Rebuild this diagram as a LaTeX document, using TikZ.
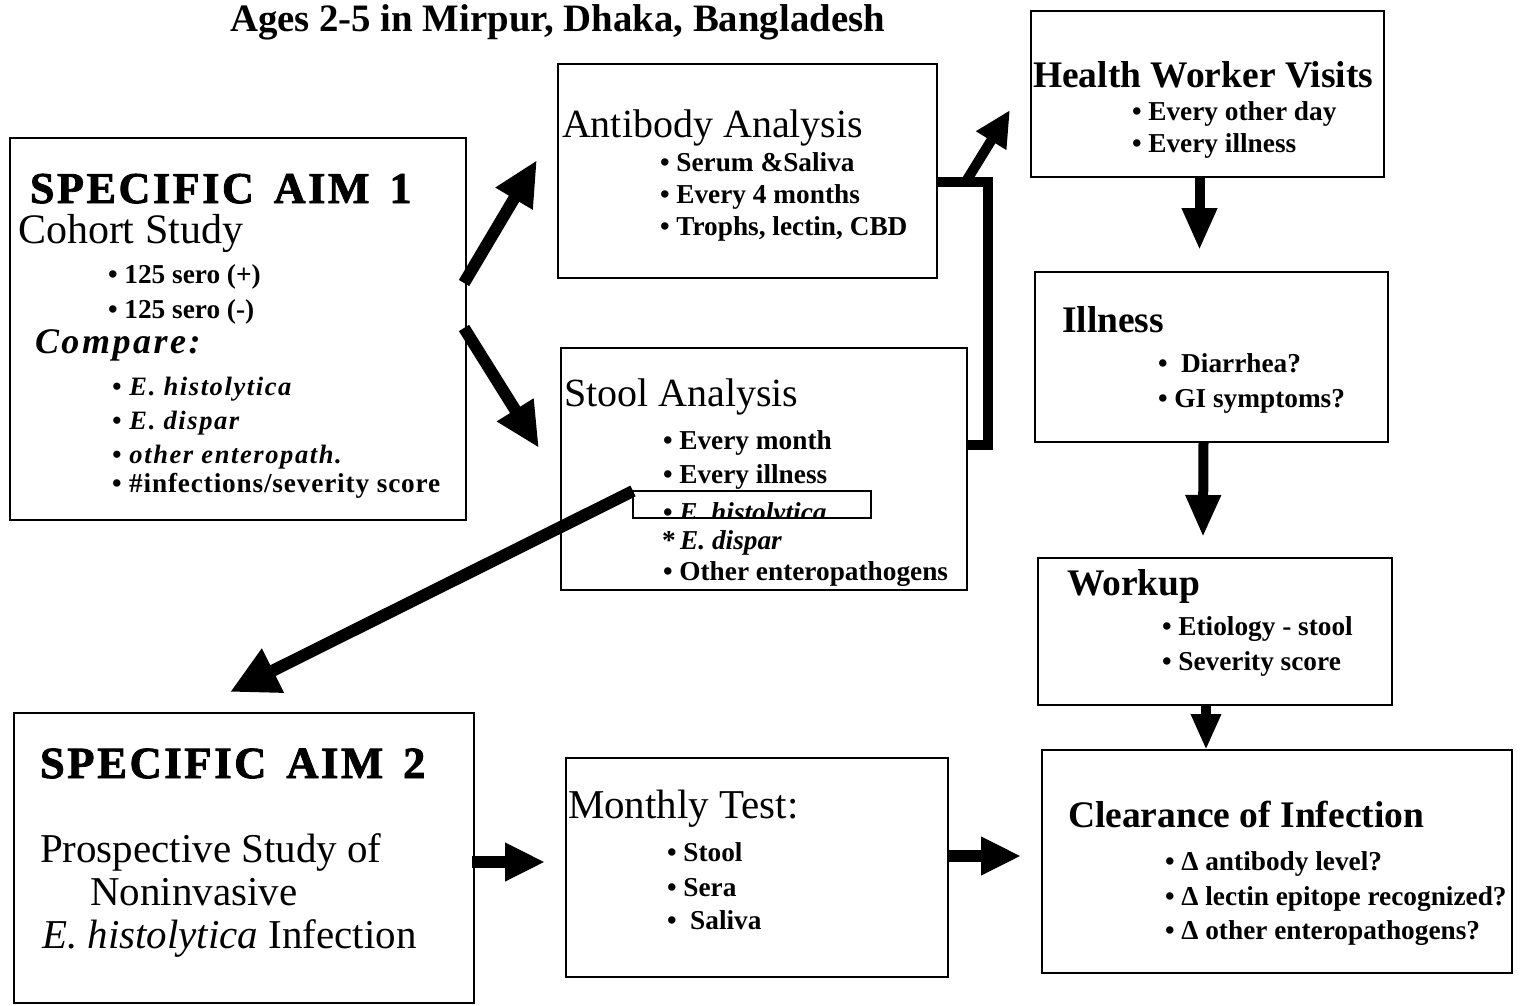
\documentclass[tikz,border=0pt]{standalone}
\usepackage{fontspec}
\setmainfont{Liberation Serif}
\usetikzlibrary{arrows.meta,calc}
\tikzset{
  box/.style={draw, line width=2pt, inner sep=0pt, outer sep=0pt, anchor=north west},
  txt/.style={anchor=base west, inner sep=0pt, outer sep=0pt},
  head/.style={txt, font=\fontsize{40}{44}\selectfont},
  headb/.style={txt, font=\fontsize{37.5}{44}\selectfont\bfseries},
  item/.style={txt, font=\fontsize{27.3}{30}\selectfont\bfseries},
  itemit/.style={txt, font=\fontsize{26.5}{30}\selectfont\bfseries\itshape\addfontfeatures{LetterSpace=6}},
  aimhead/.style={txt, font=\fontsize{44}{50}\selectfont\bfseries\addfontfeatures{FakeBold=2,LetterSpace=6}},
  bigarrow/.style={line width=12pt, -{Triangle[length=45pt,width=40pt]}},
  vertarrow/.style={line width=10pt, -{Triangle[length=42pt,width=33pt]}},
  horarrow/.style={line width=12pt, -{Triangle[length=40pt,width=36pt]}},
  bar/.style={line width=10pt, line join=miter},
}
\begin{document}
\begin{tikzpicture}[x=1pt,y=-1pt]
\useasboundingbox (0,0) rectangle (1527,1005);
\fill[white] (0,0) rectangle (1527,1005);

% title
\node[txt, font=\fontsize{38.8}{44}\selectfont\bfseries] (title) at (230,31) {Ages 2-5 in Mirpur, Dhaka, Bangladesh};

% ---------- boxes ----------
\node[box, minimum width=456pt, minimum height=382pt] (aim1) at (10,138) {};
\node[box, minimum width=379pt, minimum height=214pt] (ab) at (558,64) {};
\node[box, minimum width=406pt, minimum height=242pt] (st) at (561,348) {};
\node[box, minimum width=353pt, minimum height=166pt] (hw) at (1031,11) {};
\node[box, minimum width=353pt, minimum height=170pt] (ill) at (1035,272) {};
\node[box, minimum width=354pt, minimum height=147pt] (wk) at (1038,558) {};
\node[box, minimum width=470pt, minimum height=223pt] (cl) at (1042,750) {};
\node[box, minimum width=460pt, minimum height=290pt] (aim2) at (14,713) {};
\node[box, minimum width=382pt, minimum height=219pt] (mt) at (566,758) {};

% ---------- Specific aim 1 ----------
\node[aimhead] (a1h) at (30,203) {SPECIFIC\hspace{20pt}AIM\hspace{20pt}1};
\node[head, font=\fontsize{42}{44}\selectfont] (a1c) at (18,243) {Cohort Study};
\node[item] (a1b1) at (108,283) {\textbullet\ 125 sero (+)};
\node[item] (a1b2) at (108,318) {\textbullet\ 125 sero (-)};
\node[txt, font=\fontsize{36}{40}\selectfont\bfseries\itshape\addfontfeatures{LetterSpace=7}] (a1cmp) at (35,353) {Compare:};
\node[itemit] (a1b3) at (112,395) {\textbullet\ E. histolytica};
\node[itemit] (a1b4) at (112,429) {\textbullet\ E. dispar};
\node[itemit] (a1b5) at (112,463) {\textbullet\ other enteropath.};
\node[item, font=\fontsize{27.3}{30}\selectfont\bfseries\addfontfeatures{LetterSpace=3}] (a1b6) at (112,492) {\textbullet\ \#infections/severity score};

% ---------- Antibody ----------
\node[head] (abh) at (562,137) {Antibody Analysis};
\node[item] (ab1) at (660,171) {\textbullet\ Serum \&Saliva};
\node[item] (ab2) at (660,203) {\textbullet\ Every 4 months};
\node[item] (ab3) at (660,235) {\textbullet\ Trophs, lectin, CBD};

% ---------- Stool ----------
\node[head] (sth) at (564,406) {Stool Analysis};
\node[item] (st1) at (663,449) {\textbullet\ Every month};
\node[item] (st2) at (663,483) {\textbullet\ Every illness};
\begin{scope}
  \clip (633,480) rectangle (871,518);
  \node[txt, font=\fontsize{27.3}{30}\selectfont\bfseries] (st3) at (663,521) {\textbullet\ \textit{E. histolytica}};
\end{scope}
\node[box, line width=2pt, minimum width=238pt, minimum height=27pt] (sbox) at (633,491) {};
\node[item] (st4) at (662,549) {*\,\textit{E. dispar}};
\node[item] (st5) at (663,580) {\textbullet\ Other enteropathogens};

% ---------- Health worker ----------
\node[headb] (hwh) at (1033,87) {Health Worker Visits};
\node[item] (hw1) at (1132,120) {\textbullet\ Every other day};
\node[item] (hw2) at (1132,152) {\textbullet\ Every illness};

% ---------- Illness ----------
\node[headb] (illh) at (1062,332) {Illness};
\node[item] (ill1) at (1158,372) {\textbullet\ \ Diarrhea?};
\node[item] (ill2) at (1158,407) {\textbullet\ GI symptoms?};

% ---------- Workup ----------
\node[headb] (wkh) at (1067,595) {Workup};
\node[item] (wk1) at (1162,635) {\textbullet\ Etiology - stool};
\node[item] (wk2) at (1162,670) {\textbullet\ Severity score};

% ---------- Clearance ----------
\node[headb] (clh) at (1068,827) {Clearance of Infection};
\node[item] (cl1) at (1165,870) {\textbullet\ Δ antibody level?};
\node[item] (cl2) at (1165,905) {\textbullet\ Δ lectin epitope recognized?};
\node[item] (cl3) at (1165,939) {\textbullet\ Δ other enteropathogens?};

% ---------- Specific aim 2 ----------
\node[aimhead, font=\fontsize{44.5}{50}\selectfont\bfseries\addfontfeatures{FakeBold=2,LetterSpace=6}] (a2h) at (40,778) {SPECIFIC\hspace{20pt}AIM\hspace{20pt}2};
\node[head, font=\fontsize{41}{44}\selectfont] (a2l1) at (40,862) {Prospective Study of};
\node[head, font=\fontsize{41}{44}\selectfont] (a2l2) at (90,905) {Noninvasive};
\node[head, font=\fontsize{41}{44}\selectfont] (a2l3) at (42,948) {\textit{E. histolytica} Infection};

% ---------- Monthly test ----------
\node[head, font=\fontsize{41}{44}\selectfont] (mth) at (568,818) {Monthly Test:};
\node[item] (mt1) at (667,861) {\textbullet\ Stool};
\node[item] (mt2) at (667,896) {\textbullet\ Sera};
\node[item] (mt3) at (667,929) {\textbullet\ \ Saliva};

% ---------- connectors ----------
\coordinate (t1) at (537,160);
\coordinate (t2) at (539,448);
\coordinate (t3) at (230,692);
\coordinate (thw) at (1010,110);
\coordinate (abj) at ($(ab.north east)+(-1,118)$);
\coordinate (jn) at ($(ab.north east)+(51,118)$);
\coordinate (stj) at ($(st.north east)+(-1,97)$);
\coordinate (cs) at ($(ab.north east)+(28,119)$);

\draw[bigarrow] ($(aim1.north east)+(-2,145)$) -- (t1);
\draw[bigarrow] ($(aim1.north east)+(-2,190)$) -- (t2);
\draw[line width=12pt, -{Triangle[length=48pt,width=46pt]}] (sbox.north west) -- (t3);

\draw[bar] (abj) -- (jn) |- (stj);
\draw[line width=10pt, -{Triangle[length=36pt,width=33pt]}] (cs) -- (thw);

\draw[vertarrow] ([xshift=-8pt]hw.south) -- ([xshift=-12pt, yshift=22pt]ill.north);
\draw[vertarrow] ([xshift=-8pt]ill.south) -- ([xshift=-12pt, yshift=21pt]wk.north);
\draw[line width=10pt, -{Triangle[length=36pt,width=28pt]}] ([xshift=-9pt]wk.south) -- ([xshift=-71pt]cl.north);

\draw[horarrow] ($(aim2.north east)+(-2,149)$) -- ($(mt.north west)+(-21,104)$);
\draw[horarrow] ($(mt.north east)+(0,98)$) -- ($(cl.north west)+(-21,106)$);
\end{tikzpicture}
\end{document}
